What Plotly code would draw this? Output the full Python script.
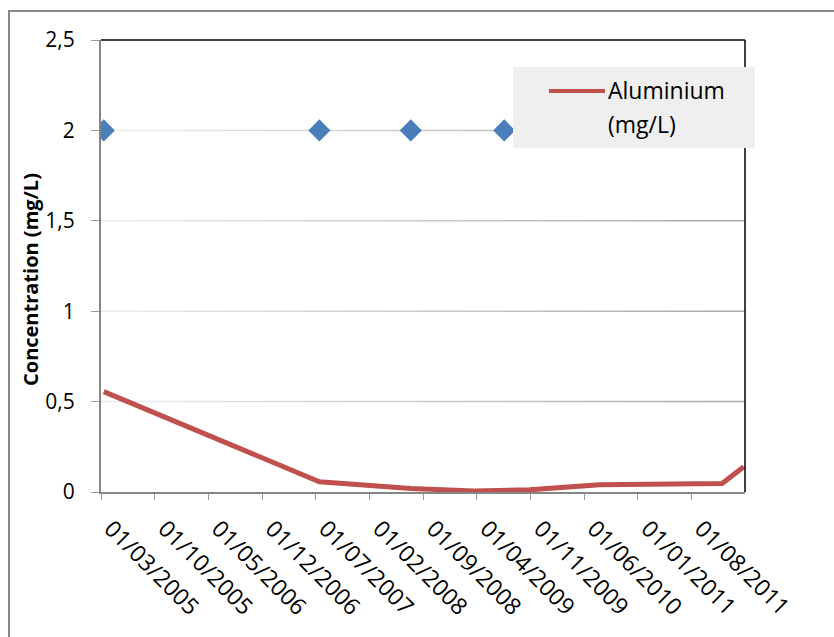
import plotly.graph_objects as go

# Aluminium concentration measurements (mg/L)
alu_dates = ["2005-03-12", "2007-07-16", "2008-07-13", "2009-03-22",
             "2009-10-28", "2010-08-01", "2011-12-01", "2012-02-25"]
alu_values = [0.555, 0.057, 0.02, 0.005, 0.012, 0.04, 0.047, 0.14]

# Guide value points (mg/L)
guide_dates = ["2005-03-12", "2007-07-16", "2008-07-13", "2009-07-19"]
guide_values = [2, 2, 2, 2]

# Axis ticks
x_tick_dates = ["2005-03-01", "2005-10-01", "2006-05-01", "2006-12-01",
                "2007-07-01", "2008-02-01", "2008-09-01", "2009-04-01",
                "2009-11-01", "2010-06-01", "2011-01-01", "2011-08-01"]
x_tick_labels = ["01/03/2005", "01/10/2005", "01/05/2006", "01/12/2006",
                 "01/07/2007", "01/02/2008", "01/09/2008", "01/04/2009",
                 "01/11/2009", "01/06/2010", "01/01/2011", "01/08/2011"]
y_tick_values = [0, 0.5, 1, 1.5, 2, 2.5]
y_tick_labels = ["0", "0,5", "1", "1,5", "2", "2,5"]
grid_values = [0.5, 1, 1.5, 2]

FONT = "Open Sans"
W, H = 834, 637
L, R, T, B = 101, 89, 40, 145
PW, PH = W - L - R, H - T - B


def px(x):
    return (x - L) / PW


def py(y):
    return (H - B - y) / PH


fig = go.Figure()

fig.add_trace(go.Scatter(
    x=guide_dates, y=guide_values, mode="markers", name="Valeur guide",
    marker=dict(symbol="diamond", size=17, color="#4a7ebb"),
    showlegend=False,
))

fig.add_trace(go.Scatter(
    x=alu_dates, y=alu_values, mode="lines", name="Aluminium (mg/L)",
    line=dict(color="#c0504d", width=5),
    showlegend=False,
))

shapes = []

# horizontal gridlines shading from light (left) to darker gray (right)
n_seg = 16
light, dark = 236, 168
for gv in grid_values:
    for i in range(n_seg):
        c = round(light + (dark - light) * (i + 0.5) / n_seg)
        shapes.append(dict(
            type="line", xref="paper", yref="y",
            x0=i / n_seg, x1=(i + 1) / n_seg, y0=gv, y1=gv,
            line=dict(color=f"rgb({c},{c},{c})", width=1.5), layer="below",
        ))

shapes += [
    # outer chart border
    dict(type="rect", xref="paper", yref="paper",
         x0=px(9), x1=px(845), y0=py(650), y1=py(11),
         line=dict(color="#878787", width=2), layer="below"),
    # plot area top and right edges
    dict(type="line", xref="paper", yref="paper",
         x0=0, x1=1, y0=1, y1=1, line=dict(color="#000000", width=1.5)),
    dict(type="line", xref="paper", yref="paper",
         x0=1, x1=1, y0=0, y1=1, line=dict(color="#000000", width=1.5)),
    # legend box
    dict(type="rect", xref="paper", yref="paper",
         x0=px(513), x1=px(755), y0=py(148), y1=py(67),
         fillcolor="#efefef", line=dict(width=0), layer="above"),
    dict(type="line", xref="paper", yref="paper",
         x0=px(549), x1=px(605), y0=py(91), y1=py(91),
         line=dict(color="#c0504d", width=4), layer="above"),
]

annotations = [
    dict(text="Aluminium", xref="paper", yref="paper", x=px(606), y=py(90),
         xanchor="left", yanchor="middle", showarrow=False,
         font=dict(family=FONT, size=23, color="#000000")),
    dict(text="(mg/L)", xref="paper", yref="paper", x=px(606), y=py(124),
         xanchor="left", yanchor="middle", showarrow=False,
         font=dict(family=FONT, size=23, color="#000000")),
    dict(text="<b>Concentration (mg/L)</b>", xref="paper", yref="paper",
         x=px(30), y=py(280), xanchor="center", yanchor="middle",
         textangle=-90, showarrow=False,
         font=dict(family=FONT, size=20, color="#000000")),
]

fig.update_layout(
    width=W, height=H,
    margin=dict(l=L, r=R, t=T, b=B),
    paper_bgcolor="#ffffff", plot_bgcolor="#ffffff",
    font=dict(family=FONT, size=21, color="#000000"),
    showlegend=False,
    shapes=shapes,
    annotations=annotations,
    xaxis=dict(
        type="date",
        range=["2005-03-01", "2012-03-01"],
        tickvals=x_tick_dates, ticktext=x_tick_labels,
        tickangle=45,
        tickfont=dict(family=FONT, size=23, color="#000000"),
        ticklabelshift=10, ticklabelstandoff=6,
        showgrid=False, zeroline=False,
        showline=True, linecolor="#868686", linewidth=2,
        ticks="outside", ticklen=6, tickcolor="#9a9a9a", tickwidth=1,
    ),
    yaxis=dict(
        range=[0, 2.5],
        tickvals=y_tick_values, ticktext=y_tick_labels,
        tickfont=dict(family=FONT, size=21, color="#000000"),
        showgrid=False, zeroline=False,
        showline=True, linecolor="#868686", linewidth=2,
        ticks="outside", ticklen=8, tickcolor="#9a9a9a", tickwidth=1,
        ticklabelstandoff=12,
    ),
)

fig.write_html("out.html")
